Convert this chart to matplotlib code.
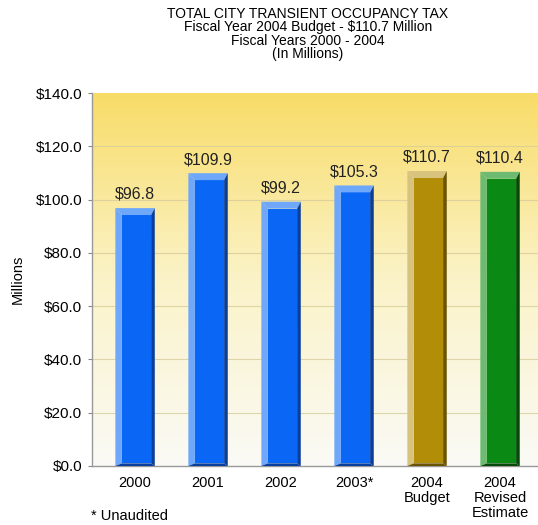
import numpy as np
import matplotlib.pyplot as plt
from matplotlib.patches import Polygon
from matplotlib.colors import LinearSegmentedColormap

plt.rcParams['font.family'] = ['Liberation Sans', 'DejaVu Sans']

# data
categories = ['2000', '2001', '2002', '2003*', '2004\nBudget', '2004\nRevised\nEstimate']
values = [96.8, 109.9, 99.2, 105.3, 110.7, 110.4]
value_labels = ['$96.8', '$109.9', '$99.2', '$105.3', '$110.7', '$110.4']
y_ticks = [0, 20, 40, 60, 80, 100, 120, 140]

# (front, light bevel, dark bevel)
blue = ('#0A66F5', '#6FA8FA', '#0A3E9C')
gold = ('#B28E08', '#D8C37E', '#6A5404')
green = ('#0A8A14', '#6DBB72', '#064A0A')
bar_colors = [blue, blue, blue, blue, gold, green]

fig = plt.figure(figsize=(5.38, 5.25), dpi=100)
ax = fig.add_axes([92 / 538, 59 / 525, 446 / 538, 373 / 525])
ax.set_xlim(-0.59, 5.52)
ax.set_ylim(0, 140)

# gradient background
cmap = LinearSegmentedColormap.from_list('bg', ['#FAFAF6', '#FBF3C8', '#F8DC68'])
grad = np.linspace(0, 1, 256).reshape(-1, 1)
ax.imshow(grad, extent=[0, 1, 0, 1], transform=ax.transAxes, origin='lower',
          aspect='auto', cmap=cmap, zorder=0)

for t in y_ticks[1:-1]:
    ax.axhline(t, color='#D8CC9A', lw=0.8, alpha=0.8, zorder=1)

w = 0.27
bl, br, bt, bb = 0.09, 0.05, 2.6, 1.0
for i, (v, (front, light, dark)) in enumerate(zip(values, bar_colors)):
    x0, x1 = i - w, i + w
    ix0, ix1 = x0 + bl, x1 - br
    iy0, iy1 = bb, v - bt
    ax.add_patch(Polygon([(ix0, iy0), (ix1, iy0), (ix1, iy1), (ix0, iy1)],
                         closed=True, color=front, lw=0, zorder=3))
    ax.add_patch(Polygon([(x0, v), (x1, v), (ix1, iy1), (ix0, iy1)],
                         closed=True, color=light, lw=0, zorder=3))
    ax.add_patch(Polygon([(x0, 0), (x0, v), (ix0, iy1), (ix0, iy0)],
                         closed=True, color=light, lw=0, zorder=3))
    ax.add_patch(Polygon([(x1, v), (x1, 0), (ix1, iy0), (ix1, iy1)],
                         closed=True, color=dark, lw=0, zorder=3))
    ax.add_patch(Polygon([(x0, 0), (x1, 0), (ix1, iy0), (ix0, iy0)],
                         closed=True, color=dark, lw=0, zorder=3))
    ax.text(i, v + 2.3, value_labels[i], ha='center', va='bottom',
            fontsize=11.5, color='#222222', zorder=4)

ax.set_xticks(range(len(categories)))
ax.set_xticklabels(categories, fontsize=10.5, linespacing=1.1)
ax.set_yticks(y_ticks)
ax.set_yticklabels(['${:.1f}'.format(t) for t in y_ticks], fontsize=11)
ax.tick_params(axis='x', length=0, pad=7)
ax.tick_params(axis='y', length=3, color='#888888', pad=4)
for s in ['top', 'right']:
    ax.spines[s].set_visible(False)
for s in ['left', 'bottom']:
    ax.spines[s].set_color('#999999')
    ax.spines[s].set_linewidth(1.0)
ax.set_ylabel('Millions', fontsize=10.5)
ax.yaxis.set_label_coords(-0.15, 0.5)

fig.text(308 / 538, 1 - 7 / 525,
         'TOTAL CITY TRANSIENT OCCUPANCY TAX\nFiscal Year 2004 Budget - $110.7 Million\n'
         'Fiscal Years 2000 - 2004\n(In Millions)',
         ha='center', va='top', fontsize=10, linespacing=0.95)
fig.text(91 / 538, 1 - 516 / 525, '* Unaudited', ha='left', va='center', fontsize=10.5)

fig.savefig('out.png', dpi=100)
